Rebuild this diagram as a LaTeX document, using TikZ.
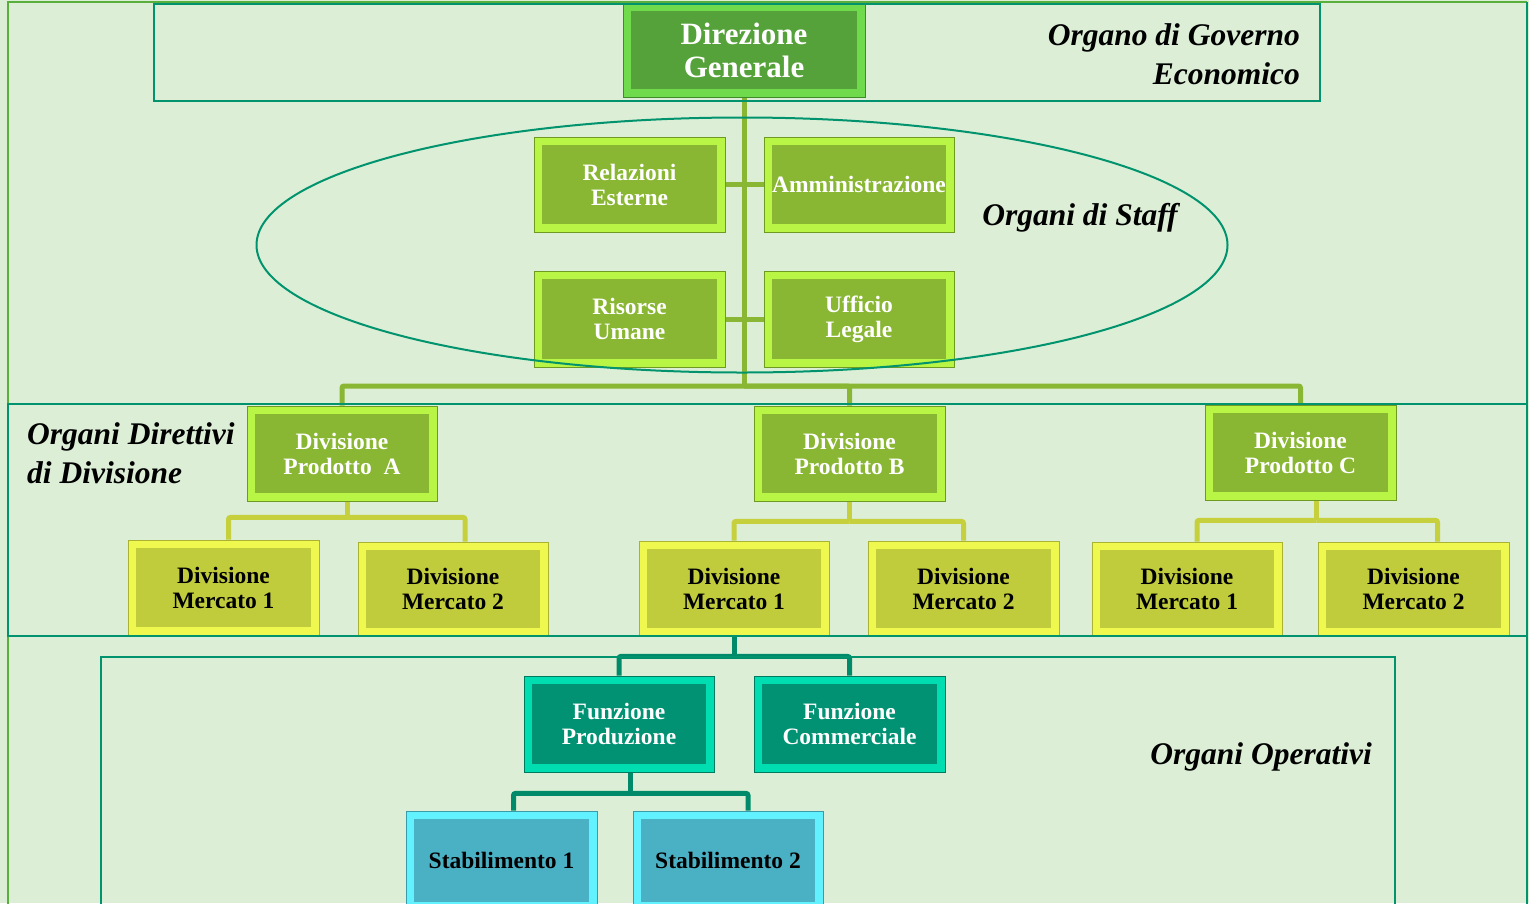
\documentclass[tikz,border=0pt]{standalone}
\usepackage{fontspec}
\setmainfont{Liberation Serif}
\definecolor{bgc}{HTML}{DCEFD6}
\definecolor{bgline}{HTML}{5AAE3C}
\definecolor{bandc}{HTML}{00936E}
\definecolor{dgin}{HTML}{55A13A}
\definecolor{dgout}{HTML}{6FDA4B}
\definecolor{dgline}{HTML}{3F8A2A}
\definecolor{stin}{HTML}{8AB733}
\definecolor{stout}{HTML}{B8F545}
\definecolor{stline}{HTML}{6F9A22}
\definecolor{mkin}{HTML}{C0CC3B}
\definecolor{mkout}{HTML}{EEF84F}
\definecolor{mkline}{HTML}{A9B232}
\definecolor{fnin}{HTML}{009272}
\definecolor{fnout}{HTML}{00DDB0}
\definecolor{fnline}{HTML}{007A5E}
\definecolor{sbin}{HTML}{4AB1C4}
\definecolor{sbout}{HTML}{62F2FF}
\definecolor{sbline}{HTML}{3A9AAA}
\definecolor{stconn}{HTML}{8AB733}
\definecolor{mkconn}{HTML}{C6CF3C}
\definecolor{fnconn}{HTML}{008A6A}
\pgfdeclarelayer{bglayer}
\pgfdeclarelayer{connlayer}
\pgfsetlayers{bglayer,connlayer,main}
\tikzset{
  bx/.style n args={3}{rectangle, draw=#3, line width=0.8pt, fill=#2, inner sep=0pt, align=center,
    font=\bfseries\fontsize{23.5}{25}\selectfont,
    path picture={\fill[#1] ([shift={(8pt,8pt)}]path picture bounding box.south west) rectangle ([shift={(-8pt,-8pt)}]path picture bounding box.north east);}},
  dgbox/.style={bx={dgin}{dgout}{dgline}, text=white, font=\bfseries\fontsize{31}{33}\selectfont},
  stbox/.style={bx={stin}{stout}{stline}, text=white},
  mkbox/.style={bx={mkin}{mkout}{mkline}, text=black},
  fnbox/.style={bx={fnin}{fnout}{fnline}, text=white},
  sbbox/.style={bx={sbin}{sbout}{sbline}, text=black},
  conn/.style={line width=5pt, rounded corners=2pt},
  stc/.style={conn, draw=stconn},
  mkc/.style={conn, draw=mkconn},
  fnc/.style={conn, draw=fnconn},
  band/.style={draw=bandc, line width=2.5pt},
  lab/.style={inner sep=0pt, font=\bfseries\itshape\fontsize{31.5}{39}\selectfont}
}
\begin{document}
\begin{tikzpicture}[x=1pt,y=-1pt]
\useasboundingbox (0,0) rectangle (1529,903);
\clip (0,0) rectangle (1529,903);
\begin{pgfonlayer}{bglayer}
\fill[bgc] (0,0) rectangle (1529,903);
\draw[bgline, line width=2pt] (8,960) -- (8,2) -- (1527,2);
\draw[bandc, line width=1.5pt] (1527,2) -- (1527,960);
\end{pgfonlayer}

% nodes
\node[dgbox, minimum width=242, minimum height=94] (dg) at (744,50) {Direzione\\Generale};
\node[stbox, minimum width=191, minimum height=95] (re) at (629.5,184.5) {Relazioni\\Esterne};
\node[stbox, minimum width=190, minimum height=95] (am) at (859,184.5) {Amministrazione};
\node[stbox, minimum width=191, minimum height=96] (ru) at (629.5,319) {Risorse\\Umane};
\node[stbox, minimum width=190, minimum height=96] (ul) at (859,319) {Ufficio\\Legale};
\node[stbox, minimum width=190, minimum height=95] (pa) at (342,453.5) {Divisione\\Prodotto~ A};
\node[stbox, minimum width=191, minimum height=95] (pb) at (849.5,453.5) {Divisione\\Prodotto B};
\node[stbox, minimum width=191, minimum height=95] (pc) at (1300.5,452.5) {Divisione\\Prodotto C};
\node[mkbox, minimum width=191, minimum height=95] (ma1) at (223.5,587.5) {Divisione\\Mercato 1};
\node[mkbox, minimum width=190, minimum height=94] (ma2) at (453,589) {Divisione\\Mercato 2};
\node[mkbox, minimum width=190, minimum height=95] (mb1) at (734,588.5) {Divisione\\Mercato 1};
\node[mkbox, minimum width=191, minimum height=95] (mb2) at (963.5,588.5) {Divisione\\Mercato 2};
\node[mkbox, minimum width=190, minimum height=94] (mc1) at (1187,589) {Divisione\\Mercato 1};
\node[mkbox, minimum width=191, minimum height=94] (mc2) at (1413.5,589) {Divisione\\Mercato 2};
\node[fnbox, minimum width=190, minimum height=96] (fp) at (619,724) {Funzione\\Produzione};
\node[fnbox, minimum width=191, minimum height=96] (fc) at (849.5,724) {Funzione\\Commerciale};
\node[sbbox, minimum width=191, minimum height=99] (s1) at (501.5,860.5) {Stabilimento 1};
\node[sbbox, minimum width=190, minimum height=99] (s2) at (728,860.5) {Stabilimento 2};

% connectors (behind nodes)
\begin{pgfonlayer}{connlayer}
\coordinate (bus) at (744,386);
\draw[stc] (dg.south) -- (bus);
\draw[stc] (bus) -| (pa.north);
\draw[stc] (bus) -| (pb.north);
\draw[stc] (bus) -| (pc.north);
\draw[stc] (re.east) -- (am.west);
\draw[stc] (ru.east) -- (ul.west);
\draw[mkc] ([xshift=5pt]pa.south) -- ++(0,16) coordinate (ja);
\draw[mkc] (ja) -| ([xshift=5pt]ma1.north);
\draw[mkc] (ja) -| ([xshift=12pt]ma2.north);
\draw[mkc] (pb.south) -- ++(0,20) coordinate (jb);
\draw[mkc] (jb) -| (mb1.north);
\draw[mkc] (jb) -| (mb2.north);
\draw[mkc] ([xshift=16pt]pc.south) -- ++(0,20) coordinate (jc);
\draw[mkc] (jc) -| ([xshift=10pt]mc1.north);
\draw[mkc] (jc) -| ([xshift=24pt]mc2.north);
\draw[fnc] (mb1.south) -- ++(0,20) coordinate (jf);
\draw[fnc] (jf) -| (fp.north);
\draw[fnc] (jf) -| (fc.north);
\draw[fnc] ([xshift=11pt]fp.south) -- ++(0,21) coordinate (js);
\draw[fnc] (js) -| ([xshift=12pt]s1.north);
\draw[fnc] (js) -| ([xshift=20pt]s2.north);
\end{pgfonlayer}

% ellipse and bands
\draw[bandc, line width=2pt] (742,245) ellipse [x radius=485.5, y radius=127.5];
\draw[band] (154,4) rectangle (1320,101);
\draw[band] (8,404) rectangle (1527,636);
\draw[band] (101,657) rectangle (1395,960);

% labels
\node[lab, anchor=east, align=right] (lg) at (1300,54.5) {Organo di Governo\\Economico};
\node[lab] (ls) at (1080,218) {Organi di Staff};
\node[lab, anchor=west, align=left] (ld) at (27,453.5) {Organi Direttivi\\di Divisione};
\node[lab, anchor=east] (lo) at (1372,757) {Organi Operativi};
\end{tikzpicture}
\end{document}
